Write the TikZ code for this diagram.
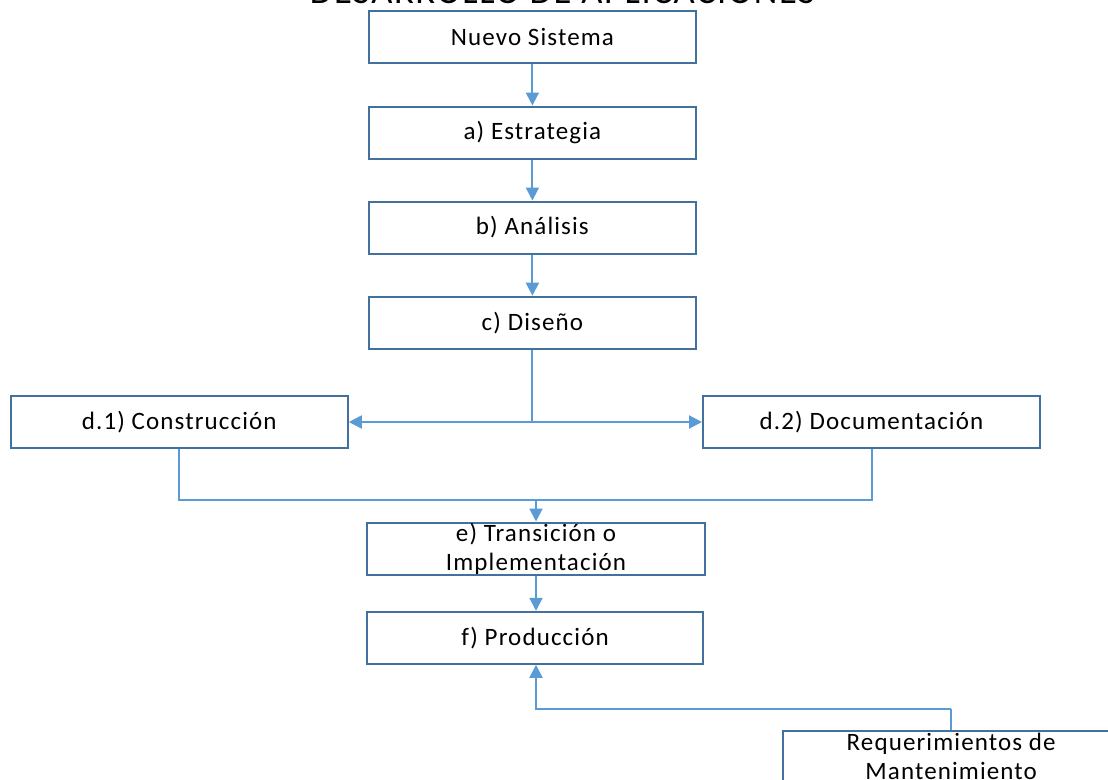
\documentclass[tikz,border=0pt]{standalone}
\usepackage{fontspec}
\setmainfont[LetterSpace=4.5]{Carlito}
\usetikzlibrary{arrows.meta}
\definecolor{boxc}{HTML}{41719C}
\definecolor{linec}{HTML}{5B9BD5}
\begin{document}
\begin{tikzpicture}[x=1pt,y=-1pt,
  stepbox/.style={draw=boxc, line width=2pt, fill=white, inner sep=0pt,
    minimum width=#1, minimum height=52pt, align=center,
    font=\fontsize{25}{29}\selectfont},
  stepbox/.default=327pt,
  link/.style={draw=linec, line width=2pt},
  conn/.style={link, -{Triangle[length=13pt,width=13pt]}}]
\useasboundingbox (0,0) rectangle (1108,779);
\node[anchor=base, font=\fontsize{36.5}{40}\selectfont] (title) at (562.5,4) {DESARROLLO DE APLICACIONES};
\node[stepbox] (nuevo) at (532.4,37) {Nuevo Sistema};
\node[stepbox] (a) at (532.4,132.5) {a) Estrategia};
\node[stepbox] (b) at (532.4,227.5) {b) Análisis};
\node[stepbox] (c) at (532.4,322.7) {c) Diseño};
\node[stepbox=337pt] (d1) at (179.3,422) {d.1) Construcción};
\node[stepbox=337pt] (d2) at (871.5,422) {d.2) Documentación};
\node[stepbox=338.5pt] (e) at (536,548.5) {e) Transición o\\Implementación};
\node[stepbox=336pt] (f) at (535,637.8) {f) Producción};
\node[stepbox=337pt] (req) at (951.2,756.7) {Requerimientos de\\Mantenimiento};
\draw[conn] (nuevo.south) -- (a.north);
\draw[conn] (a.south) -- (b.north);
\draw[conn] (b.south) -- (c.north);
\coordinate (split) at (c.south |- d1.east);
\draw[link] (c.south) -- (split);
\draw[conn] (split) -- (d1.east);
\draw[conn] (split) -- (d2.west);
\coordinate (jn) at (536,500);
\draw[link] (d1.south) |- (jn) -| (d2.south);
\draw[conn] (jn) -- (e.north);
\draw[conn] (e.south) -- (e.south |- f.north);
\coordinate (rb) at (951.2,709);
\draw[link] (req.north) -- (rb);
\draw[conn] (rb) -| (e.south |- f.south);
\end{tikzpicture}
\end{document}
